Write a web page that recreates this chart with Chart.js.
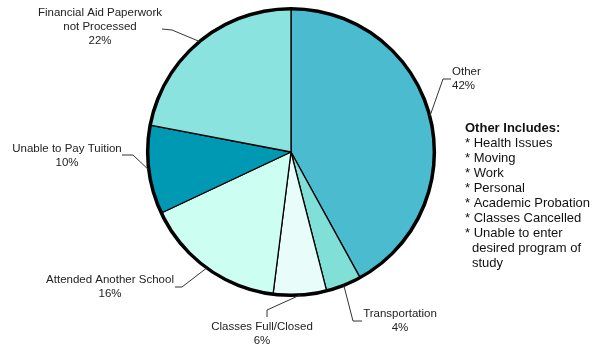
<!DOCTYPE html>
<html>
<head>
<meta charset="utf-8">
<script src="https://cdn.jsdelivr.net/npm/chart.js@4/dist/chart.umd.min.js"></script>
<style>
  html, body { margin: 0; padding: 0; background: #fff; }
  #wrap { width: 606px; height: 346px; position: relative; }
</style>
</head>
<body>
<div id="wrap"><canvas id="pie" width="606" height="346"></canvas></div>
<script>
// reasons, clockwise from 12 o'clock
const categories = ['Other', 'Transportation', 'Classes Full/Closed', 'Attended Another School', 'Unable to Pay Tuition', 'Financial Aid Paperwork not Processed'];
const percents = [42, 4, 6, 16, 10, 22];
const labelLines = [
  ['Other', '42%'],
  ['Transportation', '4%'],
  ['Classes Full/Closed', '6%'],
  ['Attended Another School', '16%'],
  ['Unable to Pay Tuition', '10%'],
  ['Financial Aid Paperwork', 'not Processed', '22%']
];
const otherIncludes = ['Health Issues', 'Moving', 'Work', 'Personal', 'Academic Probation', 'Classes Cancelled', 'Unable to enter|desired program of|study'];

const sliceColors = ['#4bbccf', '#80e0d8', '#e8fcfa', '#ccfff2', '#0099b3', '#8ae3de'];

// leader line elbow, tail end and text anchor for each slice label
const callouts = [
  { elbow: [443, 79], tail: [451, 79], x: 452, align: 'left', y: 72 },
  { elbow: [353, 321], tail: [362, 321], x: 400, align: 'center', y: 314 },
  { elbow: [267, 310], tail: [267, 317], x: 262, align: 'center', y: 327 },
  { elbow: [182, 287], tail: [175, 287], x: 110, align: 'center', y: 280 },
  { elbow: [133, 155], tail: [122, 155], x: 67, align: 'center', y: 149 },
  { elbow: [172, 30], tail: [162, 29], x: 100, align: 'center', y: 13 }
];

const calloutPlugin = {
  id: 'callouts',
  afterDatasetsDraw(chart) {
    const ctx = chart.ctx;
    const arcs = chart.getDatasetMeta(0).data;
    // heavy outline around the whole pie
    const a0 = arcs[0];
    ctx.save();
    ctx.beginPath();
    ctx.arc(a0.x, a0.y, a0.outerRadius, 0, Math.PI * 2);
    ctx.lineWidth = 3.5;
    ctx.strokeStyle = '#000';
    ctx.stroke();

    ctx.font = '11.5px Arial, "Liberation Sans", sans-serif';
    ctx.fillStyle = '#222';
    ctx.textBaseline = 'middle';
    arcs.forEach((arc, i) => {
      const c = callouts[i];
      const mid = (arc.startAngle + arc.endAngle) / 2;
      const ex = arc.x + Math.cos(mid) * arc.outerRadius;
      const ey = arc.y + Math.sin(mid) * arc.outerRadius;
      ctx.beginPath();
      ctx.moveTo(ex, ey);
      ctx.lineTo(c.elbow[0], c.elbow[1]);
      ctx.lineTo(c.tail[0], c.tail[1]);
      ctx.lineWidth = 1;
      ctx.strokeStyle = '#333';
      ctx.stroke();
      ctx.textAlign = c.align;
      labelLines[i].forEach((t, j) => ctx.fillText(t, c.x, c.y + j * 14));
    });

    // side note listing what "Other" covers
    ctx.textAlign = 'left';
    ctx.fillStyle = '#111';
    ctx.font = 'bold 13px Arial, "Liberation Sans", sans-serif';
    ctx.fillText('Other Includes:', 465, 128);
    ctx.font = '13px Arial, "Liberation Sans", sans-serif';
    let y = 143;
    otherIncludes.forEach(item => {
      item.split('|').forEach((part, k) => {
        ctx.fillText(k === 0 ? '* ' + part : part, k === 0 ? 465 : 472, y);
        y += 15;
      });
    });
    ctx.restore();
  }
};

new Chart(document.getElementById('pie'), {
  type: 'pie',
  data: {
    labels: categories,
    datasets: [{
      data: percents,
      backgroundColor: sliceColors,
      borderColor: '#000',
      borderWidth: 1.3
    }]
  },
  options: {
    responsive: false,
    animation: false,
    layout: { padding: { top: 8, bottom: 50, left: 147, right: 171 } },
    plugins: {
      legend: { display: false },
      tooltip: { enabled: false }
    }
  },
  plugins: [calloutPlugin]
});
</script>
</body>
</html>
